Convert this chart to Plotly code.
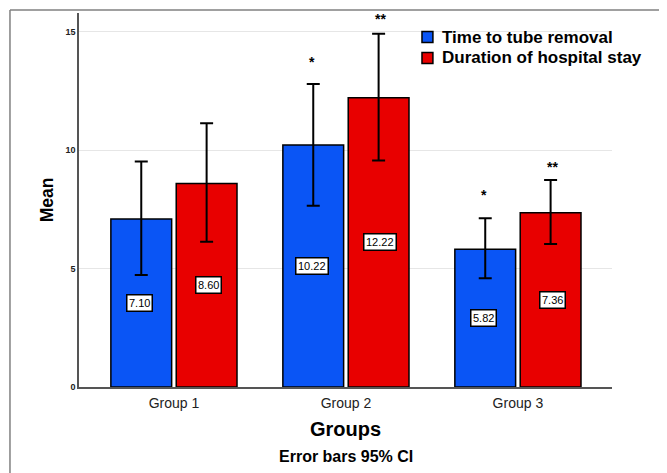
import plotly.graph_objects as go

groups = ["Group 1", "Group 2", "Group 3"]
series_names = ["Time to tube removal", "Duration of hospital stay"]
tube_mean = [7.10, 10.22, 5.82]
tube_upper = [9.53, 12.80, 7.13]
tube_lower = [4.73, 7.66, 4.59]
stay_mean = [8.60, 12.22, 7.36]
stay_upper = [11.14, 14.92, 8.75]
stay_lower = [6.14, 9.57, 6.04]
tube_marks = ["", "*", "*"]
stay_marks = ["", "**", "**"]
tube_mark_y = [None, 13.75, 8.1]
stay_mark_y = [None, 15.55, 9.3]

BLUE = "#0a55f5"
RED = "#e80000"
colors = [BLUE, RED]

# page offset of the figure inside the browser body (default 8px body margin)
OFF = 8

fig = go.Figure()
for name, mean, up, lo, col in [
    (series_names[0], tube_mean, tube_upper, tube_lower, BLUE),
    (series_names[1], stay_mean, stay_upper, stay_lower, RED),
]:
    fig.add_trace(go.Bar(
        x=groups, y=mean, name=name, showlegend=False,
        marker=dict(color=col, line=dict(color="black", width=1.5)),
        error_y=dict(type="data", symmetric=False,
                     array=[u - m for u, m in zip(up, mean)],
                     arrayminus=[m - l for m, l in zip(mean, lo)],
                     color="black", thickness=2, width=6.5),
    ))

annotations = []
offsets = [-0.2, 0.2]
for si, means in enumerate([tube_mean, stay_mean]):
    for gi, m in enumerate(means):
        annotations.append(dict(
            x=gi + offsets[si], y=m / 2, xref="x", yref="y",
            text=f"{m:.2f}", showarrow=False,
            font=dict(family="Liberation Sans Narrow, Arial Narrow, Arial", size=11, color="black"),
            bgcolor="white", bordercolor="black", borderwidth=1.5, borderpad=1.5,
        ))
for si, (marks, ys) in enumerate([(tube_marks, tube_mark_y), (stay_marks, stay_mark_y)]):
    for gi, (mk, yv) in enumerate(zip(marks, ys)):
        if mk:
            annotations.append(dict(
                x=gi + offsets[si], y=yv, xref="x", yref="y",
                text=f"<b>{mk}</b>", showarrow=False,
                font=dict(family="Arial", size=14, color="black"),
            ))
annotations.append(dict(
    x=0.5, y=-0.187, xref="paper", yref="paper", yanchor="middle",
    text="<b>Error bars 95% CI</b>", showarrow=False,
    font=dict(family="Arial", size=16, color="black"),
))

# legend (drawn as keys + labels)
leg_y = [0.9358, 0.8797]
shapes = []
for name, col, ly in zip(series_names, colors, leg_y):
    shapes.append(dict(type="rect", xref="paper", yref="paper",
                       x0=0.6435, x1=0.664, y0=ly - 0.0147, y1=ly + 0.0147,
                       fillcolor=col, line=dict(color="black", width=1.5)))
    annotations.append(dict(
        x=0.6773, y=ly, xref="paper", yref="paper", xanchor="left", yanchor="middle",
        text=f"<b>{name}</b>", showarrow=False,
        font=dict(family="Arial", size=17, color="black"),
    ))

shapes += [
    dict(type="line", xref="paper", yref="paper", x0=-0.1295, x1=1.11, y0=1.008, y1=1.008,
         line=dict(color="#808080", width=1.5)),
    dict(type="line", xref="paper", yref="paper", x0=-0.1295, x1=-0.1295, y0=1.008, y1=-0.24,
         line=dict(color="#808080", width=1.5)),
]

fig.update_layout(
    width=667 - OFF, height=473 - OFF,
    margin=dict(l=79 - OFF, r=55, t=13 - OFF, b=86, autoexpand=False),
    paper_bgcolor="white", plot_bgcolor="white",
    barmode="group", bargap=0.24, bargroupgap=0.07,
    font=dict(family="Arial", color="black"),
    showlegend=False,
    xaxis=dict(
        range=[-0.552, 2.547], showline=True, linecolor="#555", linewidth=1.5,
        ticks="", tickfont=dict(family="Arial", size=14, color="#222"), ticklabelstandoff=2,
        title=dict(text="<b>Groups</b>", font=dict(family="Arial", size=20), standoff=12),
        automargin=False,
    ),
    yaxis=dict(
        range=[0, 15.8], tickvals=[0, 5, 10, 15], ticktext=["<b>0</b>", "<b>5</b>", "<b>10</b>", "<b>15</b>"],
        showline=True, linecolor="#555", linewidth=1.5, ticks="",
        showgrid=True, gridcolor="#e6e6e6", gridwidth=1, zeroline=False,
        tickfont=dict(family="Arial", size=9, color="#222"),
        title=dict(text="<b>Mean</b>", font=dict(family="Arial", size=17.5), standoff=7),
        automargin=False,
    ),
    annotations=annotations,
    shapes=shapes,
)

fig.write_html("out.html")
